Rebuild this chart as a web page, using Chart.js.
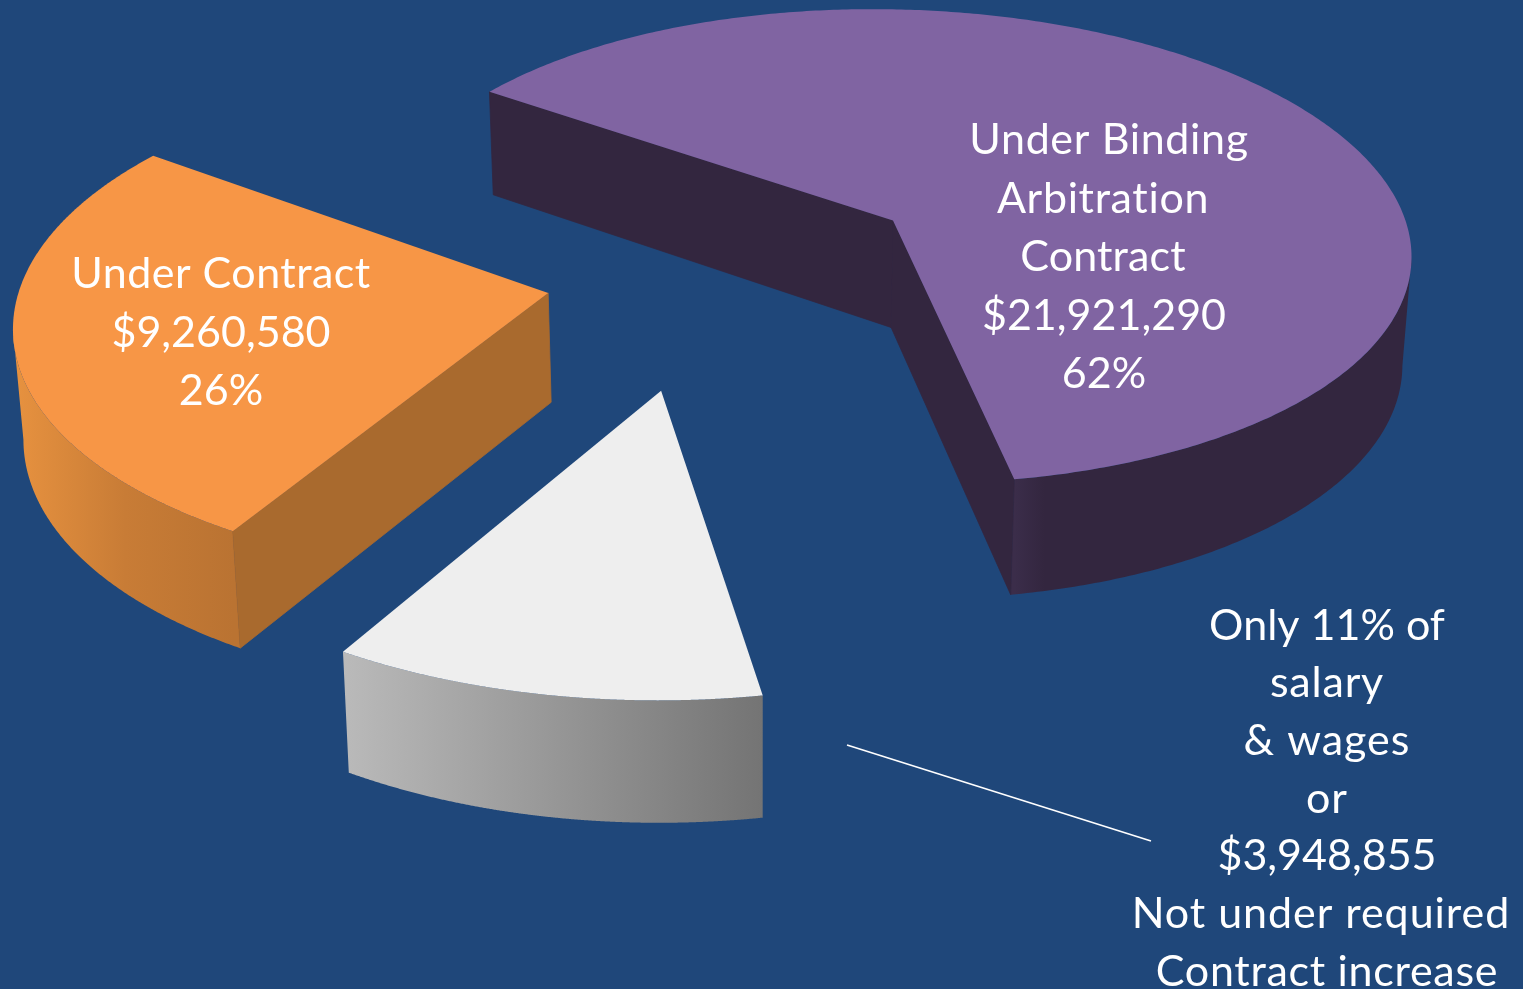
<!DOCTYPE html>
<html>
<head>
<meta charset="utf-8">
<style>html,body{margin:0;padding:0;background:#1F477A;overflow:hidden}canvas{display:block}</style>
<script src="https://cdn.jsdelivr.net/npm/chart.js@4/dist/chart.umd.min.js"></script>
</head>
<body>
<canvas id="c" width="1523" height="989"></canvas>
<script>
const categories = ['Under Binding Arbitration Contract', 'Not under required Contract increase', 'Under Contract'];
const amounts = [21921290, 3948855, 9260580];
const explode = [0.428, 0.4615, 0.307];
const explodeTurn = [1.2, -0.45, -3.4];
const topColors = ['#8064A2', '#EEEEEE', '#F79646'];
const radialWallColors = ['#33263F', '#8A8A8A', '#A96A2E'];
const outerWallStops = [['#3B2D4A', '#33263F', '#33263F'], ['#BABABA', '#979797', '#747474'], ['#E6913F', '#C87C36', '#BA7332']];
const labelBlocks = [
  {lines: ['Under Binding', 'Arbitration', 'Contract', '$21,921,290', '62%'], cx: [1109, 1103, 1103, 1104, 1104], spacing: [0.65, 0.65, 0.15, 0.01, 0.01], y: 154, step: 58.5},
  {lines: ['Under Contract', '$9,260,580', '26%'], cx: [221, 221, 221], spacing: [0.46, 0.01, 0.01], y: 288, step: 58.5},
  {lines: ['Only 11% of', 'salary', '& wages', 'or', '$3,948,855', 'Not under required', 'Contract increase'], cx: [1327, 1327, 1327, 1327, 1327, 1321, 1327], spacing: [0.01, 0.8, 1, 1, 0.01, 0.95, 0.7], y: 639.5, step: 57.7}
];
const leader = [[847, 745], [1151, 841]];
const view = {ox: 705, oy: 273, f: 525, h: 246, s: 2, k: 0.112, vx: 760, conv: 0.014, d0: 100, d1: 0.032};

function project(x, y) {
  const w = 1 - view.k * y;
  return [view.ox + (view.f * x + view.s * y) / w, view.oy + view.h * y / w];
}
function drop(p) {
  return [p[0] + (view.vx - p[0]) * view.conv, p[1] + view.d0 + view.d1 * p[1]];
}
function poly(ctx, pts, fill, seal) {
  ctx.beginPath();
  pts.forEach((p, i) => i ? ctx.lineTo(p[0], p[1]) : ctx.moveTo(p[0], p[1]));
  ctx.closePath();
  ctx.fillStyle = fill;
  ctx.fill();
  if (seal) {
    ctx.strokeStyle = fill;
    ctx.lineWidth = 0.8;
    ctx.stroke();
  }
}
function wallGradient(ctx, i, rim) {
  const xs = rim.map(p => p[0]);
  const range = i === 0 ? [rim[rim.length - 1][0], rim[rim.length - 1][0] + 60]
    : i === 2 ? [Math.min(...xs) + 5, rim[0][0]]
    : [Math.min(...xs), Math.max(...xs)];
  const g = ctx.createLinearGradient(range[0], 0, range[1], 0);
  outerWallStops[i].forEach((c, k) => g.addColorStop(k / 2, c));
  return g;
}
const pie3d = {
  id: 'pie3d',
  beforeDatasetDraw(chart) {
    const ctx = chart.ctx;
    const arcs = chart.getDatasetMeta(0).data;
    [0, 2, 1].forEach(i => {
      const el = arcs[i];
      const mid = (el.startAngle + el.endAngle) / 2 + explodeTurn[i] * Math.PI / 180;
      const x0 = Math.cos(mid) * explode[i], y0 = Math.sin(mid) * explode[i];
      const rim = [];
      const n = 400;
      for (let j = 0; j <= n; j++) {
        const a = el.startAngle + (el.endAngle - el.startAngle) * j / n;
        rim.push(project(x0 + Math.cos(a), y0 + Math.sin(a)));
      }
      const apex = project(x0, y0);
      const front = rim.filter((p, j) => (j < n && rim[j + 1][0] < p[0]) || (j > 0 && p[0] < rim[j - 1][0]));
      poly(ctx, front.concat(front.map(drop).reverse()), wallGradient(ctx, i, rim));
      const s = rim[0], e = rim[n];
      if (s[0] - apex[0] < 0) poly(ctx, [apex, s, drop(s), drop(apex)], radialWallColors[i], true);
      if (e[0] - apex[0] > 0) poly(ctx, [apex, e, drop(e), drop(apex)], radialWallColors[i], true);
      poly(ctx, [apex].concat(rim), topColors[i]);
    });
    return false;
  },
  afterDraw(chart) {
    const ctx = chart.ctx;
    ctx.save();
    ctx.fillStyle = '#FFFFFF';
    ctx.font = '43px Lato';
    ctx.textAlign = 'center';
    ctx.textBaseline = 'alphabetic';
    labelBlocks.forEach(b => b.lines.forEach((t, i) => {
      ctx.letterSpacing = b.spacing[i] + 'px';
      ctx.fillText(t, b.cx[i], b.y + i * b.step);
    }));
    ctx.letterSpacing = '0px';
    ctx.strokeStyle = '#FFFFFF';
    ctx.lineWidth = 1.7;
    ctx.beginPath();
    ctx.moveTo(leader[0][0], leader[0][1]);
    ctx.lineTo(leader[1][0], leader[1][1]);
    ctx.stroke();
    ctx.restore();
  }
};
new Chart(document.getElementById('c'), {
  type: 'pie',
  data: {labels: categories, datasets: [{data: amounts, backgroundColor: topColors, borderWidth: 0}]},
  options: {
    responsive: false,
    animation: false,
    rotation: -54.3,
    plugins: {legend: {display: false}, tooltip: {enabled: false}}
  },
  plugins: [pie3d]
});
</script>
</body>
</html>
